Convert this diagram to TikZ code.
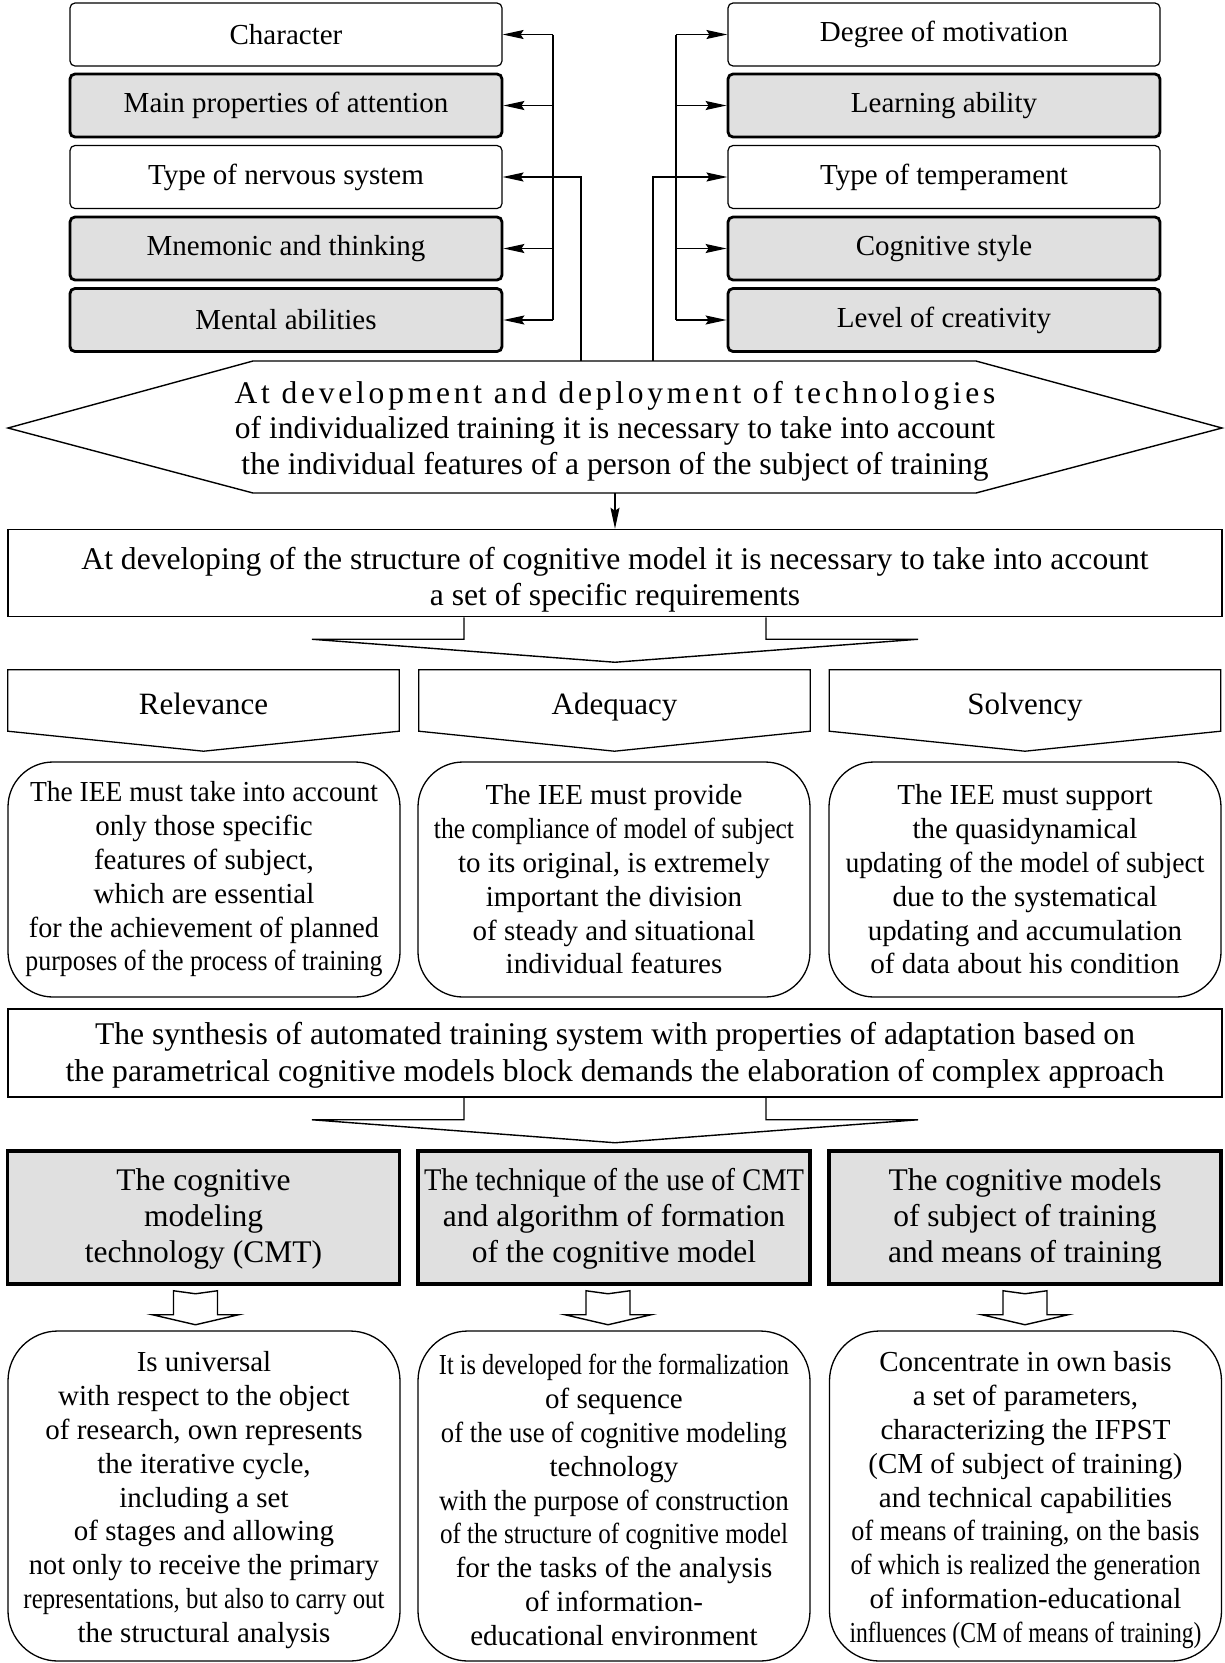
\documentclass[tikz,border=0pt]{standalone}
\usepackage{fontspec}
\setmainfont{Liberation Serif}
\usepackage{graphicx}
\usetikzlibrary{arrows.meta}
\definecolor{shade}{gray}{0.88}
\newcommand\squeeze[2]{\resizebox{#1pt}{\height}{#2}}
\newcommand\topstrut[1]{\rule{0pt}{#1pt}}

\begin{document}
\begin{tikzpicture}[x=1pt,y=-1pt,
  trait/.style={rectangle,draw,rounded corners=5pt,line width=1.2pt,minimum width=432pt,
    minimum height=63pt,inner sep=2pt,font=\fontsize{29}{34}\selectfont},
  traitdark/.style={trait,fill=shade,line width=2.8pt},
  wide/.style={rectangle,draw,line width=1.5pt,minimum width=1214pt,minimum height=87pt,
    inner sep=2pt,align=center,font=\fontsize{31.6}{36}\selectfont},
  tag/.style={rectangle,minimum width=391pt,minimum height=61pt,inner sep=2pt,
    text height=32pt,text depth=5pt,font=\fontsize{31}{36}\selectfont},
  reqbox/.style={rectangle,draw,rounded corners=45pt,line width=1.3pt,minimum width=392pt,
    minimum height=235pt,inner sep=2pt,align=center,font=\fontsize{29}{33.8}\selectfont},
  methbox/.style={rectangle,draw,fill=shade,line width=3.5pt,minimum width=392pt,
    minimum height=133pt,inner sep=2pt,align=center,font=\fontsize{31.5}{36}\selectfont},
  descbox/.style={reqbox,rounded corners=50pt,minimum height=330pt},
  arr/.style={-{Stealth[length=21pt,width=9pt,inset=3pt]},line width=1.3pt},
  block/.style={line width=1.4pt,line join=miter}
]
\useasboundingbox (0,0) rectangle (1224,1663);

% personal traits
\node[trait] (char) at (286,34.5) {Character};
\node[traitdark] (attn) at (286,105.5) {Main properties of attention};
\node[trait] (nerv) at (286,177) {Type of nervous system};
\node[traitdark] (mnem) at (286,248.5) {Mnemonic and thinking};
\node[traitdark] (ment) at (286,320) {Mental abilities};
\node[trait] (motiv) at (944,34.5) {Degree of motivation};
\node[traitdark] (learn) at (944,105.5) {Learning ability};
\node[trait] (temp) at (944,177) {Type of temperament};
\node[traitdark] (style) at (944,248.5) {Cognitive style};
\node[traitdark] (creat) at (944,320) {Level of creativity};

\coordinate (lbus) at (553,0);
\coordinate (rbus) at (676,0);
\coordinate (lfeed) at (581,361);
\coordinate (rfeed) at (653,361);
\draw[line width=1.3pt] (char.east -| lbus) -- (ment.east -| lbus);
\draw[arr] (char.east -| lbus) -- (char.east);
\draw[arr] (attn.east -| lbus) -- (attn.east);
\draw[arr] (mnem.east -| lbus) -- (mnem.east);
\draw[arr] (ment.east -| lbus) -- (ment.east);
\draw[arr] (lfeed) |- (nerv.east);
\draw[line width=1.3pt] (motiv.west -| rbus) -- (creat.west -| rbus);
\draw[arr] (motiv.west -| rbus) -- (motiv.west);
\draw[arr] (learn.west -| rbus) -- (learn.west);
\draw[arr] (style.west -| rbus) -- (style.west);
\draw[arr] (creat.west -| rbus) -- (creat.west);
\draw[arr] (rfeed) |- (temp.west);

% hexagon
\draw[line width=1.4pt] (253,361) -- (976,361) -- (1222,428) -- (976,493) -- (253,493)
  -- (8,428) -- cycle;
\node[align=center,inner sep=0pt,font=\fontsize{31.5}{35.5}\selectfont] (hex) at (615,431)
  {{\addfontfeatures{LetterSpace=12}At development and deployment of technologies}\\
   of individualized training it is necessary to take into account\\
   the individual features of a person of the subject of training};
\coordinate (hexbot) at (615,493);

\node[wide] (req) at (615,573) {\topstrut{36}At developing of the structure of cognitive model it is necessary to take into account\\
  a set of specific requirements};
\draw[arr] (hexbot) -- (req.north);
\draw[block] ([xshift=-151pt]req.south) -- ++(0,22) -- ++(-152,0) -- ++(303,23) -- ++(303,-23)
  -- ++(-152,0) -- ++(0,-22);

% requirements
\node[tag] (rel) at (203.5,700.5) {Relevance};
\node[tag] (adq) at (614.5,700.5) {Adequacy};
\node[tag] (solv) at (1025,700.5) {Solvency};
\foreach \n in {rel,adq,solv}
  \draw[line width=1.3pt] (\n.north west) -- (\n.north east) -- (\n.south east)
    -- ([yshift=-20pt]\n.south) -- (\n.south west) -- cycle;

\node[reqbox] (relt) at (204,879.5) {\squeeze{348}{The IEE must take into account}\\ only those specific\\
  features of subject,\\ which are essential\\ \squeeze{350}{for the achievement of planned}\\
  \squeeze{357}{purposes of the process of training}};
\node[reqbox] (adqt) at (614,879.5) {The IEE must provide\\
  \squeeze{360}{the compliance of model of subject}\\ to its original, is extremely\\
  important the division\\ of steady and situational\\ individual features};
\node[reqbox] (solvt) at (1025,879.5) {The IEE must support\\ the quasidynamical\\
  \squeeze{359}{updating of the model of subject}\\ due to the systematical\\ updating and accumulation\\
  of data about his condition};

\node[wide,minimum height=88pt,font=\fontsize{31.6}{37}\selectfont] (synth) at (615,1053)
  {\topstrut{26}The synthesis of automated training system with properties of adaptation based on\\
  the parametrical cognitive models block demands the elaboration of complex approach};
\draw[block] ([xshift=-151pt]synth.south) -- ++(0,22) -- ++(-152,0) -- ++(303,23) -- ++(303,-23)
  -- ++(-152,0) -- ++(0,-22);

% methods
\node[methbox] (cmt) at (203.5,1217.5) {\topstrut{25.5}The cognitive\\ modeling\\ technology (CMT)};
\node[methbox] (tech) at (614,1217.5) {\topstrut{25.5}\squeeze{380}{The technique of the use of CMT}\\
  and algorithm of formation\\ of the cognitive model};
\node[methbox] (cms) at (1025,1217.5) {\topstrut{25.5}The cognitive models\\ of subject of training\\
  and means of training};
\foreach \n/\dx in {cmt/-8,tech/-6,cms/0}
  \draw[block] ([xshift=\dx pt]\n.south) ++(-22,5) -- ++(22,3) -- ++(22,-3) -- ++(0,24)
    -- ++(21,0) -- ++(-43,10) -- ++(-43,-10) -- ++(21,0) -- cycle;

\node[descbox] (cmtd) at (204,1496) {\topstrut{28.5}Is universal\\ with respect to the object\\
  of research, own represents\\ the iterative cycle,\\ including a set\\
  of stages and allowing\\ \squeeze{350}{not only to receive the primary}\\
  \squeeze{361}{representations, but also to carry out}\\ the structural analysis};
\node[descbox] (techd) at (614,1496) {\topstrut{28.5}\squeeze{350}{It is developed for the formalization}\\
  of sequence\\ \squeeze{346}{of the use of cognitive modeling}\\ technology\\
  \squeeze{350}{with the purpose of construction}\\
  \squeeze{348}{of the structure of cognitive model}\\ for the tasks of the analysis\\
  of information-\\ educational environment};
\node[descbox] (cmsd) at (1025.5,1496) {\topstrut{28.5}Concentrate in own basis\\ a set of parameters,\\
  characterizing the IFPST\\ (CM of subject of training)\\ and technical capabilities\\
  \squeeze{348}{of means of training, on the basis}\\
  \squeeze{350}{of which is realized the generation}\\ of information-educational\\
  \squeeze{352}{influences (CM of means of training)}};
\end{tikzpicture}
\end{document}
